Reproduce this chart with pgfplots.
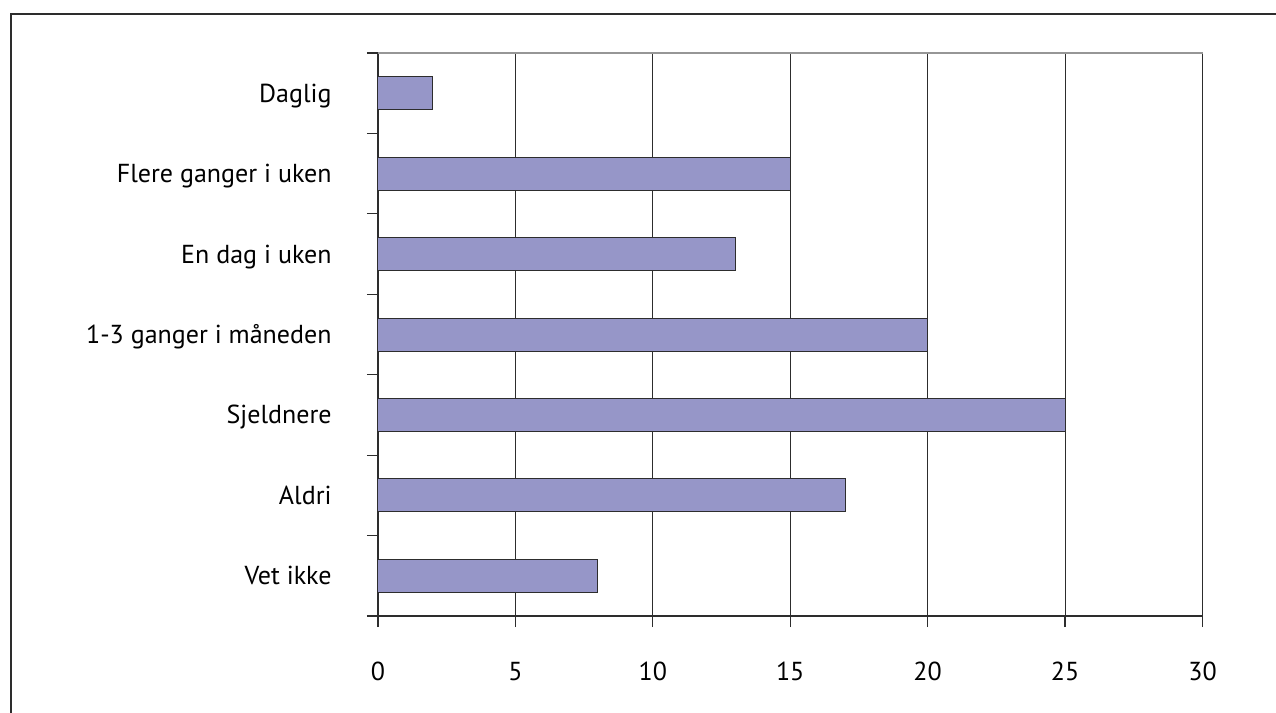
\documentclass[border=0pt]{standalone}
\usepackage{pgfplots}
\pgfplotsset{compat=1.18}
\usepackage{fontspec}
\setmainfont{PT Sans}
\definecolor{barfill}{RGB}{150,150,200}
\definecolor{linedark}{RGB}{45,45,45}
\definecolor{topgray}{RGB}{150,150,150}
\begin{document}
\fontsize{13}{15}\selectfont
\begin{tikzpicture}
\useasboundingbox (0,0) rectangle (638pt,356.5pt);
\clip (0,0) rectangle (638pt,356.5pt);
% outer frame (open to the right and bottom)
\draw[line width=1pt, linedark] (5.5pt,-10pt) -- (5.5pt,349.5pt) -- (660pt,349.5pt);
\begin{axis}[
  at={(189pt,48.5pt)}, anchor=south west,
  scale only axis, width=412.25pt, height=281.5pt,
  xbar, bar width=16.5pt,
  xmin=0, xmax=30, ymin=-0.5, ymax=6.5,
  xtick={0,5,...,30},
  ytick={0,...,6},
  yticklabels={Vet ikke,Aldri,Sjeldnere,1-3 ganger i måneden,En dag i uken,Flere ganger i uken,Daglig},
  minor ytick={-0.5,0.5,1.5,2.5,3.5,4.5,5.5,6.5},
  axis lines*=left,
  axis line style={-, line width=0.8pt, linedark},
  tick align=outside,
  major tick length=5.5pt, minor tick length=5.5pt,
  major y tick style={draw=none},
  minor y tick style={line width=0.6pt, linedark},
  major x tick style={line width=0.6pt, linedark},
  xmajorgrids,
  major grid style={line width=0.5pt, linedark},
  /pgf/number format/assume math mode=true,
  xticklabel style={anchor=base, inner sep=0pt, yshift=-26.5pt},
  yticklabel style={anchor=base east, inner sep=0pt, xshift=-17.5pt, yshift=-4.5pt},
  clip=false,
]
\addplot[fill=barfill, draw=linedark, line width=0.5pt]
  coordinates {(8,0) (17,1) (25,2) (20,3) (13,4) (15,5) (2,6)};
\draw[line width=0.8pt, topgray] (rel axis cs:0,1) -- (rel axis cs:1,1);
\end{axis}
\end{tikzpicture}
\end{document}
